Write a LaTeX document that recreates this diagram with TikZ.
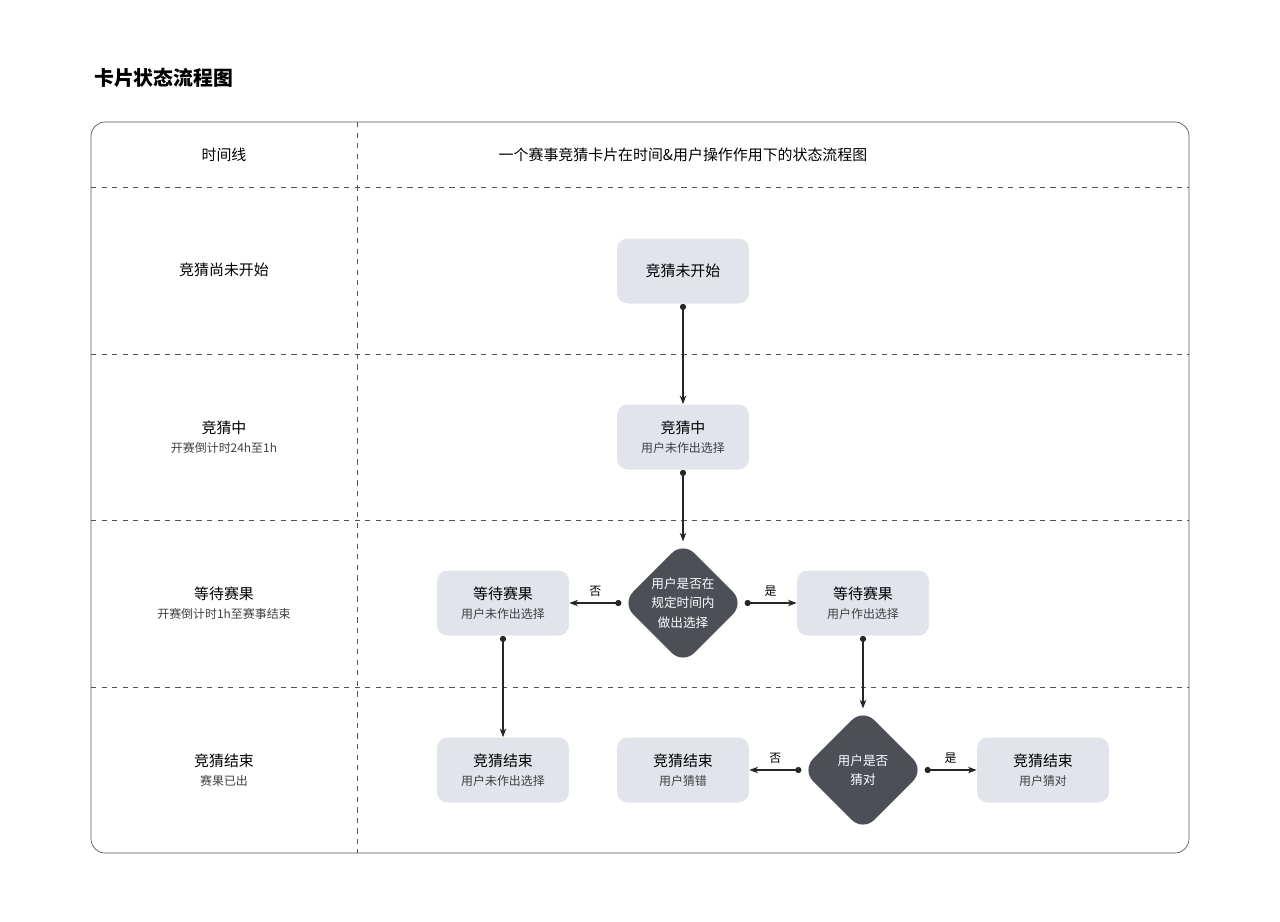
\documentclass[tikz,border=0pt]{standalone}
\usepackage{fontspec}
\setmainfont{Noto Sans CJK SC}
\usetikzlibrary{arrows.meta,shapes.geometric}
\definecolor{boxgray}{HTML}{E1E4EA}
\definecolor{darkgray}{HTML}{4D4F57}
\definecolor{linegray}{HTML}{555555}

\tikzset{
  state/.style={fill=boxgray, rounded corners=6pt, minimum width=2.64cm, minimum height=1.3cm, align=center, inner sep=0pt},
  decide/.style={shape=diamond, fill=darkgray, rounded corners=9pt, minimum width=2.45cm, minimum height=2.45cm, inner sep=0pt},
  flow/.style={{Circle[length=3.5pt]}-{Stealth[length=5pt]}, semithick, black!85},
  sep/.style={dashed, linegray, thin},
  main/.style={font=\fontsize{8.5}{10}\selectfont},
  sub/.style={font=\fontsize{6.8}{8}\selectfont, text=black!75}
}
\newcommand{\twoline}[2]{{\fontsize{8.5}{12}\selectfont #1}\\[-1pt]{\fontsize{6.8}{9}\selectfont\color{black!75}#2}}

\begin{document}
\begin{tikzpicture}[x=0.02cm, y=-0.02cm]

% Bounding box
\useasboundingbox (0,0) rectangle (1280,921);

% Title
\node[anchor=west, font=\fontsize{11.3}{13}\selectfont\bfseries] (title) at (88,78) {卡片状态流程图};

% Frame and lanes
\draw[linegray, thin, rounded corners=8pt] (91,122) rectangle (1189,853);
\draw[sep] (357,122) -- (357,853);
\foreach \y in {187,354,520,687}
  \draw[sep] (91,\y) -- (1189,\y);

% Header
\node[main] (hleft) at (224,155) {时间线};
\node[main] (hright) at (683,155) {一个赛事竞猜卡片在时间\&用户操作作用下的状态流程图};

% Lane labels
\node[main] (lane1) at (224,270) {竞猜尚未开始};
\node[align=center] (lane2) at (224,437) {\twoline{竞猜中}{开赛倒计时24h至1h}};
\node[align=center] (lane3) at (224,603) {\twoline{等待赛果}{开赛倒计时1h至赛事结束}};
\node[align=center] (lane4) at (224,770) {\twoline{竞猜结束}{赛果已出}};

% States
\node[state, main] (start) at (683,271) {竞猜未开始};
\node[state] (guess) at (683,437) {\twoline{竞猜中}{用户未作出选择}};
\node[decide] (d1) at (683,603) {};
\node[text=white, align=center, font=\fontsize{7.2}{11}\selectfont] at (683,603) {用户是否在\\规定时间内\\做出选择};
\node[state] (waitno) at (503,603) {\twoline{等待赛果}{用户未作出选择}};
\node[state] (waityes) at (863,603) {\twoline{等待赛果}{用户作出选择}};
\node[state] (endno) at (503,770) {\twoline{竞猜结束}{用户未作出选择}};
\node[decide] (d2) at (863,770) {};
\node[text=white, align=center, font=\fontsize{7.2}{11}\selectfont] at (863,770) {用户是否\\猜对};
\node[state] (endwrong) at (683,770) {\twoline{竞猜结束}{用户猜错}};
\node[state] (endright) at (1043,770) {\twoline{竞猜结束}{用户猜对}};

% Connectors
\draw[flow] (start.south) -- (guess.north);
\draw[flow] (guess.south) -- (d1.north);
\draw[flow] (d1.west) -- node[above, sub, text=black] {否} (waitno.east);
\draw[flow] (d1.east) -- node[above, sub, text=black] {是} (waityes.west);
\draw[flow] (waitno.south) -- (endno.north);
\draw[flow] (waityes.south) -- (d2.north);
\draw[flow] (d2.west) -- node[above, sub, text=black] {否} (endwrong.east);
\draw[flow] (d2.east) -- node[above, sub, text=black] {是} (endright.west);

\end{tikzpicture}
\end{document}
